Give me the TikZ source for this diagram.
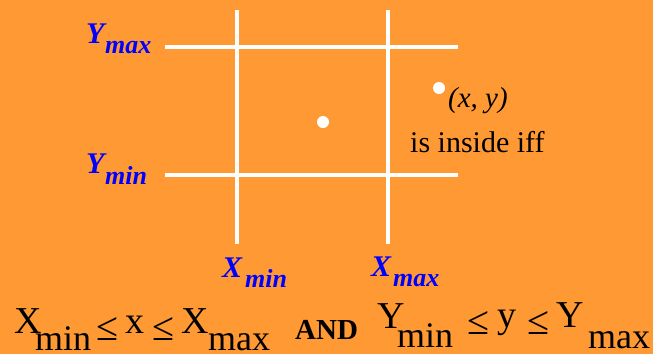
\documentclass[tikz,border=0pt]{standalone}
\usepackage{fontspec}
\setmainfont{Liberation Serif}
\definecolor{bgorange}{HTML}{FF9933}
\definecolor{labblue}{HTML}{0000FF}
\begin{document}
\begin{tikzpicture}[x=1pt,y=-1pt,
  gridline/.style={white,line width=4pt},
  dotpt/.style={circle,fill=white,inner sep=0pt,minimum size=12pt},
  axlab/.style={anchor=base west,inner sep=0pt,text=labblue,font=\fontsize{30}{32}\selectfont\bfseries\itshape},
  axsub/.style={anchor=base west,inner sep=0pt,text=labblue,font=\fontsize{26}{28}\selectfont\bfseries\itshape},
  ftxt/.style={anchor=base west,inner sep=0pt,font=\fontsize{38}{40}\selectfont},
  fsub/.style={anchor=base west,inner sep=0pt,font=\fontsize{36}{38}\selectfont},
  fle/.style={anchor=base west,inner sep=0pt,font=\fontsize{40}{42}\selectfont},
  andtxt/.style={anchor=base west,inner sep=0pt,font=\fontsize{29}{31}\selectfont\bfseries},
  note/.style={anchor=base west,inner sep=0pt,font=\fontsize{30}{32}\selectfont}]
\fill[bgorange] (0,0) rectangle (653,354);
\useasboundingbox (0,0) rectangle (653,354);
% grid lines
\coordinate (v1t) at (237,10); \coordinate (v1b) at (237,244);
\coordinate (v2t) at (388,10); \coordinate (v2b) at (388,244);
\coordinate (h1l) at (165,46.5); \coordinate (h1r) at (458,46.5);
\coordinate (h2l) at (165,175); \coordinate (h2r) at (458,175);
\draw[gridline] (v1t) -- (v1b);
\draw[gridline] (v2t) -- (v2b);
\draw[gridline] (h1l) -- (h1r);
\draw[gridline] (h2l) -- (h2r);
% points
\node[dotpt] (pin) at (323,122) {};
\node[dotpt] (pout) at (439,88) {};
\node[note,font=\fontsize{29}{31}\selectfont\itshape] (xy) at (448,107) {(x, y)};
\node[note] (inside) at (410,152) {is inside iff};
% axis labels
\node[axlab] (ymaxY) at (86,43) {Y};
\node[axsub] (ymaxs) at (105,53) {max};
\node[axlab] (yminY) at (86,173) {Y};
\node[axsub] (ymins) at (105,184) {min};
\node[axlab] (xminX) at (222,277) {X};
\node[axsub] (xmins) at (245,287) {min};
\node[axlab] (xmaxX) at (371,276) {X};
\node[axsub] (xmaxs) at (393,286) {max};
% bottom formula
\node[ftxt] (f1) at (14,333) {X};
\node[fsub] (f2) at (35,350) {min};
\node[fle] (f3) at (96,340) {≤};
\node[ftxt] (f4) at (125,333) {x};
\node[fle] (f5) at (152,340) {≤};
\node[ftxt] (f6) at (181,333) {X};
\node[fsub] (f7) at (208,350) {max};
\node[andtxt] (fand) at (295,339) {AND};
\node[ftxt] (g1) at (377,328) {Y};
\node[fsub] (g2) at (397,347) {min};
\node[fle] (g3) at (467,334) {≤};
\node[ftxt] (g4) at (497,327) {y};
\node[fle] (g5) at (527,334) {≤};
\node[ftxt] (g6) at (556,327) {Y};
\node[fsub] (g7) at (588,348) {max};
\end{tikzpicture}
\end{document}
